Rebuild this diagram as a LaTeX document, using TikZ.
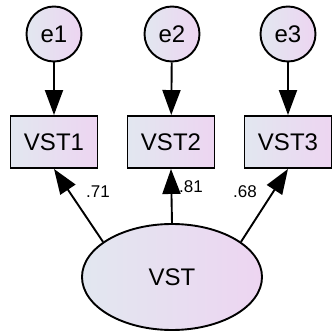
\documentclass[tikz,border=0pt]{standalone}
\usepackage{fontspec}
\setmainfont{Liberation Sans}
\usetikzlibrary{arrows.meta,shapes.geometric}
\definecolor{gradL}{RGB}{226,231,240}
\definecolor{gradR}{RGB}{237,213,241}
\tikzset{
  obs/.style={draw=black,line width=1.9pt,rectangle,minimum width=87pt,minimum height=52pt,inner sep=0pt,left color=gradL,right color=gradR,font=\fontsize{24}{27}\selectfont},
  err/.style={draw=black,line width=1.9pt,circle,minimum size=55pt,inner sep=0pt,left color=gradL,right color=gradR,font=\fontsize{24}{27}\selectfont},
  lat/.style={draw=black,line width=1.9pt,ellipse,minimum width=180pt,minimum height=106pt,inner sep=0pt,left color=gradL,right color=gradR,font=\fontsize{24}{27}\selectfont},
  path/.style={line width=1.9pt,-{Triangle[length=25pt,width=18pt]}},
  coef/.style={font=\fontsize{17}{19}\selectfont,inner sep=0pt}
}
\begin{document}
\begin{tikzpicture}[x=1pt,y=-1pt]
\useasboundingbox (0,0) rectangle (333,332);
\node[err] (e1) at (54,34) {e1};
\node[err] (e2) at (172,34) {e2};
\node[err] (e3) at (288,34) {e3};
\node[obs] (v1) at (54,142) {VST1};
\node[obs] (v2) at (171,142) {VST2};
\node[obs] (v3) at (288,142) {VST3};
\node[lat] (vst) at (172,277) {VST};
\draw[path] (e1) -- (v1);
\draw[path] (e2) -- (v2);
\draw[path] (e3) -- (v3);
\draw[path] (vst.153) -- (v1.south);
\draw[path] (vst.north) -- (v2.south);
\draw[path] (vst.27) -- (v3.south);
\node[coef] (c1) at (98,192) {.71};
\node[coef] (c2) at (191,187) {.81};
\node[coef] (c3) at (245,192) {.68};
\end{tikzpicture}
\end{document}
